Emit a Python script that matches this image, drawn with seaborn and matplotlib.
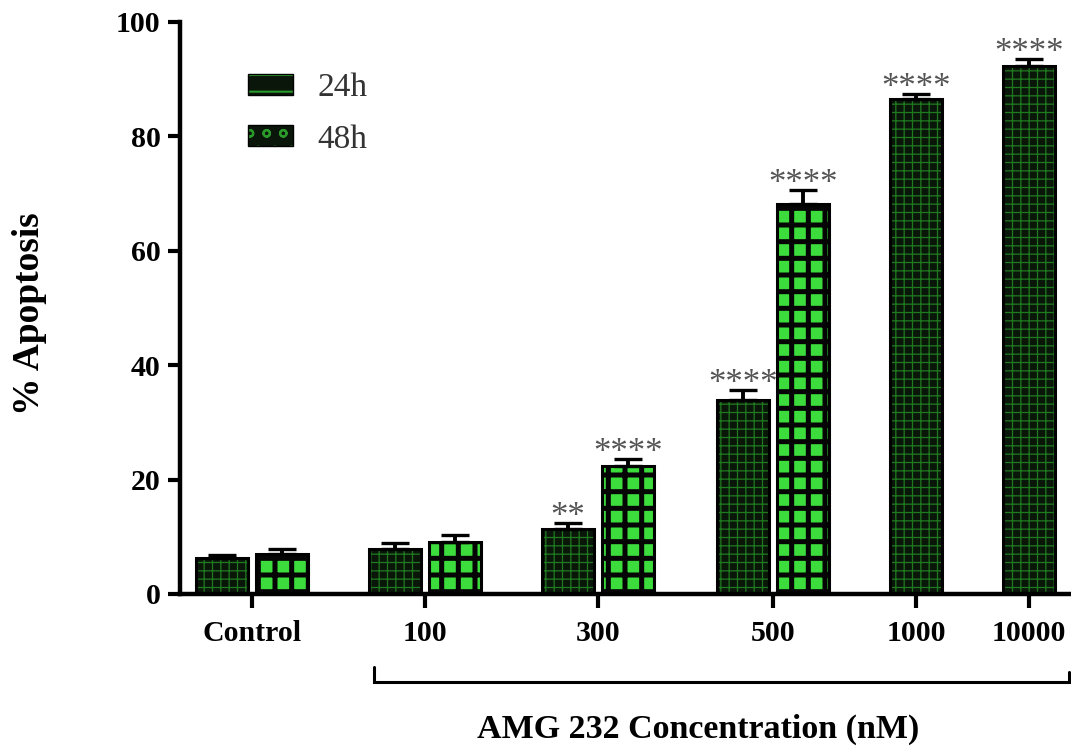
import numpy as np
import pandas as pd
import matplotlib
matplotlib.use('Agg')
import matplotlib.pyplot as plt
import matplotlib.transforms as mtransforms
from matplotlib.colors import to_rgba
from matplotlib.patches import Patch
import seaborn as sns


CONCENTRACIONES = ['Control', '100', '300', '500', '1000', '10000']
MEDIA_24H = [6.3, 7.9, 11.4, 33.9, 86.5, 92.3]
SEM_24H = [0.6, 1.0, 1.0, 1.8, 0.9, 1.2]
MEDIA_48H = [7.0, 9.1, 22.4, 68.2, np.nan, np.nan]
SEM_48H = [0.8, 1.2, 1.2, 2.4, np.nan, np.nan]
SIG_24H = ['', '', '**', '****', '****', '****']
SIG_48H = ['', '', '****', '****', '', '']
TIEMPOS = ['24h', '48h']

# posiciones de los grupos en el eje x (maquetacion, no datos)
POS_GRUPO = [0.0, 1.0, 2.0, 3.01, 3.84, 4.49]
DESPLAZ = 0.173

COLOR_FONDO = {'24h': '#0b160b', '48h': '#3bdc3b'}
ESTILO = {
    '24h': dict(hatch='++', color='#1f7a1f', lw=0.9),
    '48h': dict(hatch='+', color='#050505', lw=3.6),
}


def construir_tabla() -> pd.DataFrame:
    filas = []
    for i, conc in enumerate(CONCENTRACIONES):
        tiene_48 = not np.isnan(MEDIA_48H[i])
        off = DESPLAZ if tiene_48 else 0.0
        filas.append(dict(conc=conc, pos=POS_GRUPO[i] - off, apoptosis=MEDIA_24H[i],
                          sem=SEM_24H[i], sig=SIG_24H[i], tiempo='24h'))
        if tiene_48:
            filas.append(dict(conc=conc, pos=POS_GRUPO[i] + off, apoptosis=MEDIA_48H[i],
                              sem=SEM_48H[i], sig=SIG_48H[i], tiempo='48h'))
    return pd.DataFrame(filas)


def aplicar_trama(p, tiempo):
    est = ESTILO[tiempo]
    p.set_hatch(est['hatch'])
    p.set_edgecolor('black')
    if hasattr(p, 'set_hatchcolor'):
        p.set_hatchcolor(est['color'])
    else:
        p._hatch_color = to_rgba(est['color'])
    if hasattr(p, 'set_hatch_linewidth'):
        p.set_hatch_linewidth(est['lw'])


def main():
    df = construir_tabla()

    sns.set_style('ticks')
    plt.rcParams['font.family'] = ['Liberation Serif', 'DejaVu Serif']
    plt.rcParams['hatch.linewidth'] = 1.5
    plt.rcParams['text.color'] = 'black'
    plt.rcParams['axes.labelcolor'] = 'black'

    fig = plt.figure(figsize=(10.71, 7.49), dpi=100)
    ax = fig.add_axes([180 / 1071, 1 - 594 / 749, 891 / 1071, 572 / 749])

    sns.barplot(data=df, x='pos', y='apoptosis', hue='tiempo', hue_order=TIEMPOS,
                palette=COLOR_FONDO, native_scale=True, dodge=False, width=0.867,
                errorbar=None, legend=False, saturation=1, linewidth=2.2,
                edgecolor='black', ax=ax)

    ref24 = np.array(to_rgba(COLOR_FONDO['24h'])[:3])
    for barra in ax.patches:
        fc = np.array(barra.get_facecolor()[:3])
        tiempo = '24h' if np.allclose(fc, ref24, atol=0.02) else '48h'
        aplicar_trama(barra, tiempo)

    ax.errorbar(df['pos'], df['apoptosis'], yerr=[np.zeros(len(df)), df['sem']],
                fmt='none', ecolor='black', elinewidth=2.8, capsize=9.8,
                capthick=2.4, zorder=3)

    for _, fila in df.iterrows():
        if fila['sig']:
            ax.annotate(fila['sig'], xy=(fila['pos'], fila['apoptosis'] + fila['sem']),
                        xytext=(0, -8), textcoords='offset points', ha='center',
                        va='bottom', fontsize=25, color='#555555')

    ax.set_xlim(-0.416, 4.734)
    ax.set_ylim(0, 100)
    ax.set_xticks(POS_GRUPO)
    ax.set_xticklabels(CONCENTRACIONES)
    ax.set_yticks([0, 20, 40, 60, 80, 100])
    ax.tick_params(axis='both', labelsize=21.5, width=3, colors='black')
    ax.tick_params(axis='y', length=9, pad=5)
    ax.tick_params(axis='x', length=10, pad=8.5)
    for lab in ax.get_xticklabels() + ax.get_yticklabels():
        lab.set_fontweight('bold')

    sns.despine(ax=ax)
    for lado in ['left', 'bottom']:
        ax.spines[lado].set_linewidth(3.2)
        ax.spines[lado].set_color('black')

    ax.set_xlabel('')
    ax.set_ylabel('% Apoptosis', fontsize=27, fontweight='bold')
    ax.yaxis.set_label_coords(-0.149, 0.49)

    # corchete bajo las concentraciones
    trans = mtransforms.blended_transform_factory(ax.transData, ax.transAxes)
    ax.plot([0.705, 0.705, 4.72, 4.72], [-0.128, -0.154, -0.154, -0.136],
            transform=trans, color='black', lw=2.2, clip_on=False,
            solid_joinstyle='miter')
    ax.text(0.581, -0.236, 'AMG 232 Concentration (nM)', transform=ax.transAxes,
            ha='center', va='center', fontsize=24.5, fontweight='bold')

    manejadores = []
    for t in TIEMPOS:
        h = Patch(facecolor='#0b160b', edgecolor='black',
                  hatch='-' if t == '24h' else 'o', label=t)
        manejadores.append(h)
    leg = ax.legend(handles=manejadores, loc='upper left',
                    bbox_to_anchor=(0.0763, 0.911), frameon=False, fontsize=24,
                    borderpad=0, borderaxespad=0, handlelength=1.36,
                    handleheight=0.6, handletextpad=0.72, labelspacing=0.62)
    for h in leg.get_patches():
        if hasattr(h, 'set_hatchcolor'):
            h.set_hatchcolor('#2a9a2a')
        else:
            h._hatch_color = to_rgba('#2a9a2a')
    for txt in leg.get_texts():
        txt.set_color('#333333')

    fig.savefig('out.png', dpi=100)
    plt.close(fig)


if __name__ == '__main__':
    main()
